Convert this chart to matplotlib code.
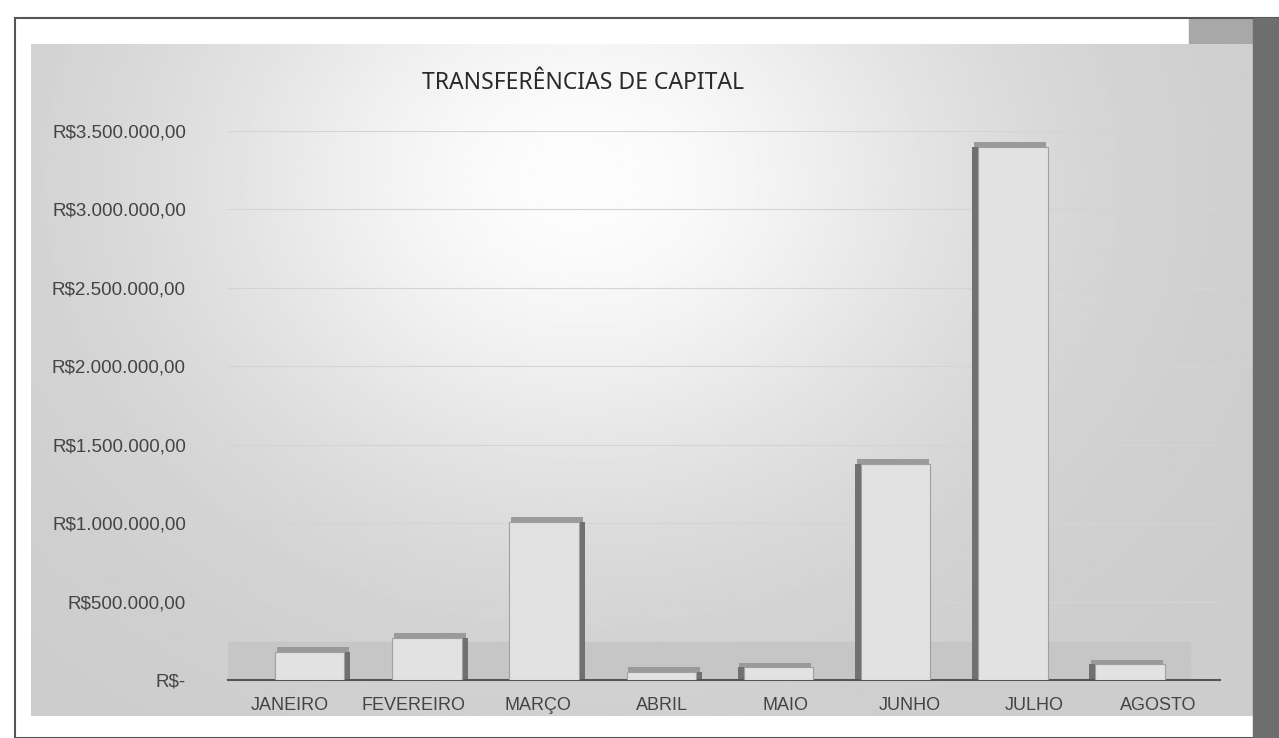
import numpy as np
import matplotlib.pyplot as plt
from matplotlib.patches import Rectangle

meses = ['JANEIRO', 'FEVEREIRO', 'MARÇO', 'ABRIL', 'MAIO', 'JUNHO', 'JULHO', 'AGOSTO']
valores = [180000, 270000, 1010000, 50000, 80000, 1380000, 3400000, 100000]
ticks = [0, 500000, 1000000, 1500000, 2000000, 2500000, 3000000, 3500000]
tick_labels = ['R$-', 'R$500.000,00', 'R$1.000.000,00', 'R$1.500.000,00',
               'R$2.000.000,00', 'R$2.500.000,00', 'R$3.000.000,00', 'R$3.500.000,00']

plt.rcParams['font.family'] = ['Liberation Sans', 'DejaVu Sans']

fig = plt.figure(figsize=(12.79, 7.38), dpi=100)
fig.patch.set_facecolor('white')

# background panel with a soft light spot, like the scanned slide
bg = fig.add_axes([0, 0, 1, 1])
bg.set_xlim(0, 1)
bg.set_ylim(0, 1)
bg.axis('off')
gx, gy = np.meshgrid(np.linspace(0, 1, 400), np.linspace(0, 1, 240))
glow = np.exp(-(((gx - 0.45) / 0.33) ** 2 + ((gy - 0.8) / 0.5) ** 2))
shade = 0.80 + 0.19 * glow
bg.imshow(shade, cmap='gray', vmin=0, vmax=1, extent=[0.024, 0.98, 0.03, 0.94],
          origin='lower', aspect='auto', zorder=1)
bg.add_patch(Rectangle((0.012, 0.0), 0.988, 0.975, fill=False, ec='#555555', lw=1.5, zorder=2))
bg.add_patch(Rectangle((0.93, 0.84), 0.05, 0.135, color='#a8a8a8', zorder=0))
bg.add_patch(Rectangle((0.98, 0.0), 0.02, 0.975, color='#6e6e6e', zorder=2))

ax = fig.add_axes([0.178, 0.0786, 0.776, 0.744])
ax.patch.set_alpha(0)
x = np.arange(len(meses))

# floor of the 3D chart
ax.add_patch(Rectangle((0, 0), 0.97, 0.07, transform=ax.transAxes,
                       color='#c6c6c6', zorder=1))

# bars lean toward the centre like the perspective view
pos = x + 0.16 - 0.055 * x
lado = np.where(x < 3.5, 0.05, -0.05)
ax.bar(pos + lado, valores, width=0.56, color='#707070', zorder=2)
ax.bar(pos, valores, width=0.56, color='#e2e2e2', edgecolor='#a0a0a0',
       linewidth=0.8, zorder=3)
ax.bar(pos + lado / 2, 30000, bottom=valores, width=0.58, color='#9a9a9a', zorder=3)

ax.set_ylim(0, 3500000)
ax.set_xlim(-0.5, len(meses) - 0.5)
ax.set_yticks(ticks)
ax.set_yticklabels(tick_labels, fontsize=13.5, color='#444444')
ax.set_xticks(x)
ax.set_xticklabels(meses, fontsize=13, color='#444444')
ax.tick_params(length=0, pad=12)
ax.tick_params(axis='y', pad=30)
ax.yaxis.grid(True, color='#d4d4d4', lw=0.8)
ax.set_axisbelow(True)
for side in ['top', 'right', 'left']:
    ax.spines[side].set_visible(False)
ax.spines['bottom'].set_color('#555555')
ax.spines['bottom'].set_linewidth(1.5)

fig.text(0.456, 0.887, 'TRANSFERÊNCIAS DE CAPITAL', ha='center', va='center',
         fontsize=16.5, color='#2a2a2a', family=['Noto Sans', 'DejaVu Sans'])

fig.savefig('out.png', dpi=100)
